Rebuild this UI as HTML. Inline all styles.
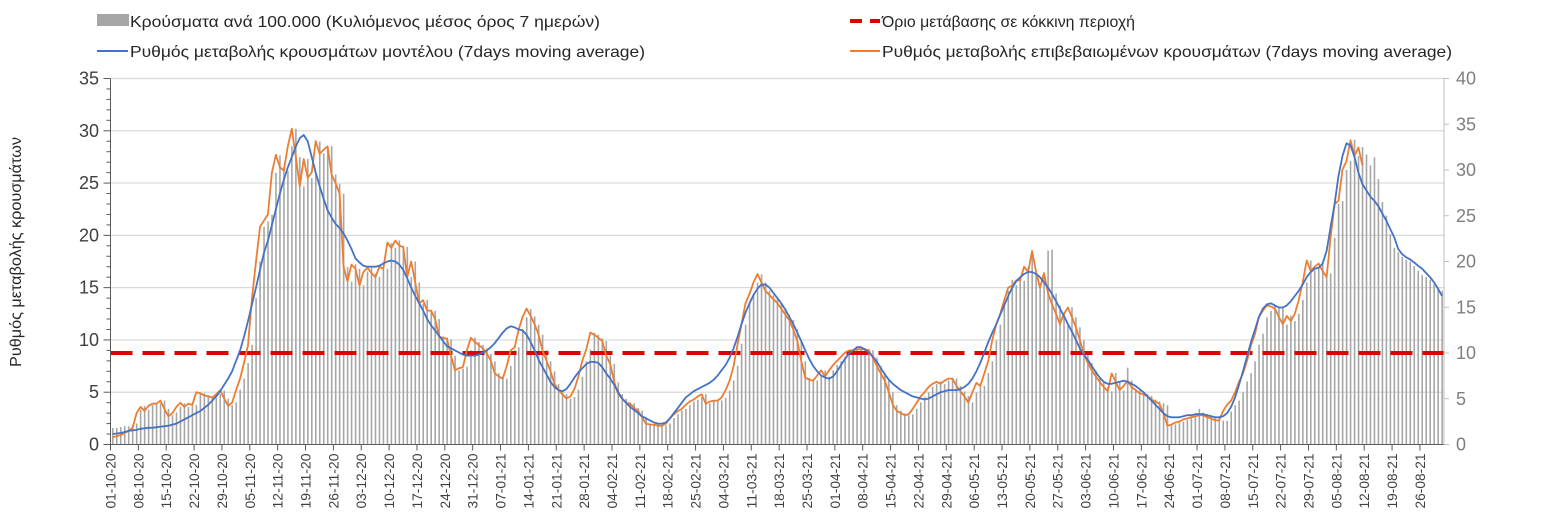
<!DOCTYPE html>
<html><head><meta charset="utf-8"><style>
body{margin:0;background:#fff;}
svg{display:block;font-family:"Liberation Sans","DejaVu Sans",sans-serif;}
</style></head><body>
<svg id="chart" width="1542" height="529" viewBox="0 0 1542 529" xmlns="http://www.w3.org/2000/svg">
<rect x="0" y="0" width="1542" height="529" fill="#fff"/>
<g>
 <g><rect x="97" y="14" width="32" height="12" fill="#a6a6a6"/><text x="130" y="27" font-size="16" fill="#262626" textLength="470" lengthAdjust="spacingAndGlyphs">Κρούσματα ανά 100.000 (Κυλιόμενος μέσος όρος 7 ημερών)</text></g>
 <g><line x1="97" y1="51" x2="128" y2="51" stroke="#4472c4" stroke-width="2"/><text x="130" y="57" font-size="16" fill="#262626" textLength="515" lengthAdjust="spacingAndGlyphs">Ρυθμός μεταβολής κρουσμάτων μοντέλου (7days moving average)</text></g>
 <g><line x1="850" y1="21" x2="880" y2="21" stroke="#e00000" stroke-width="4" stroke-dasharray="12,8"/><text x="882" y="27" font-size="16" fill="#262626" textLength="253" lengthAdjust="spacingAndGlyphs">Όριο μετάβασης σε κόκκινη περιοχή</text></g>
 <g><line x1="850" y1="51" x2="880" y2="51" stroke="#ed7d31" stroke-width="2"/><text x="882" y="57" font-size="16" fill="#262626" textLength="570" lengthAdjust="spacingAndGlyphs">Ρυθμός μεταβολής επιβεβαιωμένων κρουσμάτων (7days moving average)</text></g>
</g>
<text transform="translate(21,252) rotate(-90)" text-anchor="middle" font-size="16" fill="#262626" textLength="230" lengthAdjust="spacingAndGlyphs">Ρυθμός μεταβολής κρουσμάτων</text>
<g id="plot"></g>
</svg>
<script>
const startDate = [2020, 10, 1];
const leftTicks = [0,5,10,15,20,25,30,35];
const rightTicks = [0,5,10,15,20,25,30,35,40];
const thresholdRight = [10];
const bars = [1.8,1.8,1.9,2.0,2.0,2.1,2.3,3.8,4.2,3.8,
4.3,4.5,4.5,4.8,3.9,3.2,3.5,4.1,4.5,4.1,
4.4,4.3,5.7,5.6,5.4,5.2,5.1,5.5,5.9,5.0,
4.3,4.6,6.0,7.2,8.9,10.9,16.0,20.0,23.8,24.4,
25.1,29.7,31.6,30.3,29.9,32.6,34.5,31.4,28.2,31.2,
29.1,29.7,33.1,31.8,32.2,32.6,29.5,28.5,27.4,19.4,
17.8,19.7,19.2,17.4,18.9,19.3,18.7,18.3,19.4,19.2,
22.0,21.5,22.3,21.7,21.6,18.3,20.0,17.7,15.4,15.8,
14.6,14.6,13.7,11.8,11.7,11.5,9.7,8.1,8.3,8.5,
10.3,11.7,11.2,10.9,10.5,9.9,9.1,7.8,7.4,7.2,
8.6,10.3,10.6,12.6,13.9,14.8,14.0,13.1,12.0,10.3,
9.1,8.0,6.6,5.9,5.5,5.0,5.2,6.0,7.4,9.1,
10.4,12.2,12.0,11.6,11.3,9.7,8.8,6.8,5.5,5.0,
4.6,4.5,4.0,3.7,3.0,2.3,2.2,2.2,2.1,2.1,
2.3,2.9,3.3,3.7,3.9,4.3,4.7,4.9,5.2,5.5,
4.5,4.7,4.8,4.8,5.1,5.9,7.0,8.6,11.0,13.1,
15.4,16.5,17.7,18.6,17.7,16.8,16.3,15.9,15.4,14.9,
14.2,13.6,12.6,11.3,9.1,7.3,7.1,7.0,7.5,8.1,
7.4,8.1,8.7,9.1,9.6,10.1,10.3,10.3,10.4,10.4,
10.4,10.3,9.5,8.6,7.8,7.0,5.7,4.3,3.7,3.4,
3.2,3.3,3.9,4.6,5.2,5.7,6.3,6.6,6.9,6.6,
7.0,7.2,7.2,6.4,5.8,5.3,4.6,5.7,6.7,6.4,
7.8,9.1,11.4,13.1,15.5,16.8,18.0,17.4,17.9,17.9,
19.4,21.1,18.9,17.1,18.7,21.2,21.3,16.5,15.2,14.3,
13.1,15.0,13.9,12.8,11.4,9.9,8.9,8.1,7.4,6.9,
6.3,5.8,7.8,6.9,5.9,8.4,7.0,6.1,5.9,5.6,
5.5,5.3,4.9,4.7,4.5,4.3,2.1,2.2,2.4,2.5,
2.7,2.9,3.1,3.9,3.5,3.3,3.2,3.0,2.8,2.6,
2.6,3.6,4.3,4.8,5.7,6.9,7.8,9.1,10.9,12.1,
13.9,14.6,15.2,15.1,14.9,13.1,14.1,13.5,14.3,15.8,
17.7,20.1,19.0,19.4,19.8,18.3,18.7,22.6,26.3,26.6,
30.0,31.0,33.3,31.5,32.5,31.7,30.5,31.4,29.0,26.5,
25.0,23.0,21.5,21.0,20.5,20.2,20.0,19.5,19.0,18.5,
18.3,18.0,17.5,17.2,16.8];
const modelRate = [1.0,1.05,1.1,1.2,1.3,1.35,1.4,1.5,1.55,1.6,
1.6,1.65,1.7,1.75,1.8,1.9,2.0,2.2,2.4,2.6,
2.8,3.0,3.2,3.5,3.8,4.2,4.6,5.1,5.7,6.3,
7.0,8.0,9.0,10.3,11.8,13.4,15.0,16.7,18.3,19.5,
21.0,22.5,24.0,25.3,26.5,27.5,28.5,29.3,29.6,29.0,
27.5,26.0,24.7,23.5,22.4,21.7,21.1,20.7,20.2,19.5,
18.7,17.8,17.4,17.1,17.0,17.0,17.0,17.1,17.3,17.5,
17.6,17.5,17.2,16.7,15.9,15.0,14.2,13.5,12.8,12.0,
11.4,10.9,10.4,9.9,9.4,9.2,9.0,8.8,8.6,8.5,
8.5,8.5,8.6,8.8,9.0,9.3,9.7,10.2,10.7,11.1,
11.3,11.2,11.0,10.9,10.5,9.8,9.0,8.1,7.4,6.7,
6.0,5.5,5.2,5.1,5.3,5.8,6.4,6.9,7.3,7.7,
7.9,7.9,7.8,7.4,6.8,6.3,5.7,5.0,4.4,4.0,
3.6,3.3,3.0,2.7,2.5,2.3,2.1,2.0,2.0,2.1,
2.5,3.0,3.5,4.0,4.5,4.8,5.1,5.3,5.5,5.7,
5.9,6.2,6.6,7.1,7.6,8.3,9.2,10.3,11.5,12.6,
13.5,14.3,14.9,15.3,15.3,15.0,14.5,14.0,13.5,12.9,
12.2,11.5,10.7,9.9,9.0,8.2,7.5,7.0,6.6,6.4,
6.3,6.5,7.0,7.6,8.2,8.7,9.0,9.3,9.3,9.1,
8.8,8.4,7.9,7.3,6.7,6.2,5.8,5.5,5.2,5.0,
4.8,4.6,4.5,4.4,4.3,4.4,4.6,4.8,5.0,5.1,
5.2,5.2,5.2,5.3,5.5,5.8,6.3,7.0,7.8,8.8,
9.8,10.7,11.5,12.4,13.3,14.2,15.0,15.6,16.0,16.3,
16.5,16.5,16.3,16.0,15.5,15.0,14.4,13.7,13.0,12.3,
11.5,10.8,10.0,9.2,8.6,8.1,7.5,6.9,6.4,6.0,
5.8,5.8,5.9,6.0,6.1,6.0,5.8,5.6,5.3,5.0,
4.6,4.2,3.8,3.4,3.0,2.7,2.6,2.6,2.6,2.7,
2.8,2.8,2.9,2.9,2.9,2.8,2.7,2.6,2.6,2.7,
3.0,3.6,4.5,5.7,7.0,8.4,9.8,11.0,12.2,13.0,
13.4,13.5,13.3,13.1,13.1,13.3,13.7,14.2,14.7,15.3,
16.0,16.5,16.8,16.9,17.3,18.5,20.8,23.0,25.7,27.6,
28.8,28.6,27.5,26.0,24.9,24.3,23.7,23.3,22.8,22.1,
21.4,20.6,19.8,18.7,18.2,17.9,17.7,17.4,17.1,16.8,
16.4,16.0,15.5,14.9,14.2];
const confirmedRate = [0.7,0.8,0.9,1.1,1.3,1.6,3.0,3.6,3.2,3.7,
3.9,3.9,4.2,3.4,2.7,3.0,3.6,4.0,3.6,3.9,
3.8,5.0,4.9,4.7,4.6,4.5,4.8,5.2,4.4,3.7,
4.0,5.2,6.3,7.8,9.5,14.0,17.5,20.8,21.4,22.0,
26.0,27.7,26.5,26.2,28.5,30.2,27.5,24.7,27.3,25.5,
26.0,29.0,27.8,28.2,28.5,25.8,25.0,24.0,17.0,15.6,
17.2,16.8,15.2,16.5,16.9,16.4,16.0,17.0,16.8,19.3,
18.8,19.5,19.0,18.9,16.0,17.5,15.5,13.5,13.8,12.8,
12.8,12.0,10.3,10.2,10.1,8.5,7.1,7.3,7.4,9.0,
10.2,9.8,9.5,9.2,8.7,8.0,6.8,6.5,6.3,7.5,
9.0,9.3,11.0,12.2,13.0,12.3,11.5,10.5,9.0,8.0,
7.0,5.8,5.2,4.8,4.4,4.6,5.3,6.5,8.0,9.1,
10.7,10.5,10.2,9.9,8.5,7.7,6.0,4.8,4.4,4.0,
3.9,3.5,3.2,2.6,2.0,1.9,1.9,1.8,1.8,2.0,
2.5,2.9,3.2,3.4,3.8,4.1,4.3,4.6,4.8,3.9,
4.1,4.2,4.2,4.5,5.2,6.1,7.5,9.6,11.5,13.5,
14.4,15.5,16.3,15.5,14.7,14.3,13.9,13.5,13.0,12.4,
11.9,11.0,9.9,8.0,6.4,6.2,6.1,6.6,7.1,6.5,
7.1,7.6,8.0,8.4,8.8,9.0,9.0,9.1,9.1,9.1,
9.0,8.3,7.5,6.8,6.1,5.0,3.8,3.2,3.0,2.8,
2.9,3.4,4.0,4.6,5.0,5.5,5.8,6.0,5.8,6.1,
6.3,6.3,5.6,5.1,4.6,4.0,5.0,5.9,5.6,6.8,
8.0,10.0,11.5,12.5,13.8,15.0,15.2,15.7,15.7,17.0,
16.5,18.5,16.5,15.0,16.4,14.5,13.4,12.5,11.5,12.5,
13.1,12.2,11.2,10.0,8.7,7.8,7.1,6.5,6.0,5.5,
5.1,6.8,6.0,5.2,5.6,6.1,5.5,5.2,4.9,4.8,
4.6,4.3,4.1,3.9,3.0,1.8,1.9,2.1,2.2,2.4,
2.5,2.6,2.7,2.8,2.8,2.6,2.5,2.3,2.3,3.2,
3.8,4.2,5.0,6.0,6.8,8.0,9.5,10.6,12.2,12.8,
13.3,13.2,13.0,12.2,11.5,12.3,11.8,12.5,13.8,15.5,
17.6,16.6,17.0,17.3,16.6,16.0,19.8,23.0,23.3,26.3,
27.1,29.1,27.6,28.4,26.7];

const NS = "http://www.w3.org/2000/svg";
const plot = document.getElementById('plot');
const X0 = 110.5, X1 = 1444, Y0 = 444.5, YT = 78.5, DAYW = 3.98;
const xDay = i => X0 + i * DAYW;
const yL = v => Y0 - v / 35 * (Y0 - YT);
const yR = v => Y0 - v / 40 * (Y0 - YT);
function mk(tag, attrs, parent) {
  const e = document.createElementNS(NS, tag);
  for (const k in attrs) e.setAttribute(k, attrs[k]);
  (parent || plot).appendChild(e);
  return e;
}
leftTicks.forEach(v => {
  if (v === 0) return;
  const g = mk('line', {x1: X0, x2: X1, y1: yL(v), y2: yL(v), stroke: '#d9d9d9', 'stroke-width': 1.2});
  
  
});
const barG = mk('g', {});


bars.forEach((v, i) => {
  const b = mk('rect', {x: xDay(i) + 1.5, y: yR(v), width: 1.6, height: Y0 - yR(v), fill: '#a6a6a6'}, barG);
  
  
});
const th = mk('line', {x1: X0, x2: X1, y1: yR(thresholdRight[0]), y2: yR(thresholdRight[0]), stroke: '#e00000', 'stroke-width': 4, 'stroke-dasharray': '22,10'});


function line(arr, color, name) {
  const d = arr.map((v, i) => (i ? 'L' : 'M') + (xDay(i) + 2.2).toFixed(1) + ',' + yL(v).toFixed(1)).join('');
  const p = mk('path', {d: d, fill: 'none', stroke: color, 'stroke-width': 1.8, 'stroke-linejoin': 'round'});
  
  
}
line(confirmedRate, '#ed7d31', 'confirmed-rate-line');
line(modelRate, '#4472c4', 'model-rate-line');
const ax = mk('line', {x1: X0, x2: X0, y1: YT, y2: Y0, stroke: '#595959', 'stroke-width': 1});


const bx = mk('line', {x1: X0, x2: X1, y1: Y0, y2: Y0, stroke: '#595959', 'stroke-width': 1});


const rx = mk('line', {x1: X1, x2: X1, y1: YT, y2: Y0, stroke: '#bfbfbf', 'stroke-width': 1});


for (let v = 0; v <= 35; v++) {
  mk('line', {x1: X0 - (v % 5 ? 4 : 7), x2: X0, y1: yL(v), y2: yL(v), stroke: '#595959', 'stroke-width': 1});
}
leftTicks.forEach(v => {
  const t = mk('text', {x: 99, y: yL(v) + 6, 'text-anchor': 'end', 'font-size': 18, fill: '#404040'});
  t.textContent = v;
  
  
});
rightTicks.forEach(v => {
  mk('line', {x1: X1, x2: X1 + 5, y1: yR(v), y2: yR(v), stroke: '#bfbfbf', 'stroke-width': 1});
  const t = mk('text', {x: 1456, y: yR(v) + 6, 'font-size': 18, fill: '#7f7f7f'});
  t.textContent = v;
  
  
});
const pad = n => (n < 10 ? '0' : '') + n;
for (let i = 0; i < bars.length; i += 7) {
  const d = new Date(startDate[0], startDate[1] - 1, startDate[2] + i);
  const lbl = pad(d.getDate()) + '-' + pad(d.getMonth() + 1) + '-' + String(d.getFullYear()).slice(2);
  const x = xDay(i);
  mk('line', {x1: x, x2: x, y1: Y0, y2: Y0 + 6, stroke: '#595959', 'stroke-width': 1});
  const t = mk('text', {transform: 'translate(' + (x + 5) + ',' + (Y0 + 9) + ') rotate(-90)', 'text-anchor': 'end', 'font-size': 14, fill: '#404040', textLength: 55, lengthAdjust: 'spacingAndGlyphs'});
  t.textContent = lbl;
  
  
}
</script>
</body></html>
